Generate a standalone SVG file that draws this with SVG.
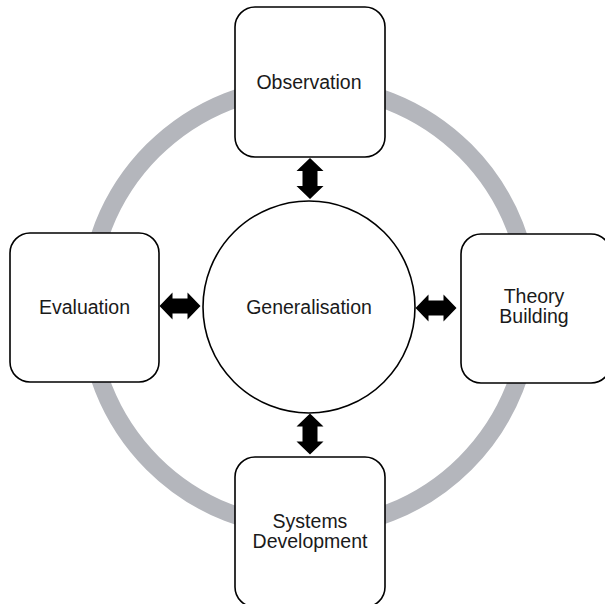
<svg xmlns="http://www.w3.org/2000/svg" xmlns:xlink="http://www.w3.org/1999/xlink" width="605" height="604" viewBox="0 0 605 604">
  <style>
    .box { fill: #ffffff; stroke: #000000; stroke-width: 1.6; }
    .hub { fill: #ffffff; stroke: #000000; stroke-width: 1.6; }
    .ring { fill: none; stroke: #b4b6bc; stroke-width: 18; }
    .label { font-family: "Liberation Sans", Arial, sans-serif; font-size: 19.5px; fill: #1a1a1a; text-anchor: middle; }
    .arrow { fill: #000000; }
  </style>
  <defs>
    <!-- double-headed arrow, vertical, centred on the origin, 41px long -->
    <path id="dbl" d="M0,-20.5 L13.5,-7.5 L7.5,-7.5 L7.5,7.5 L13.5,7.5 L0,20.5 L-13.5,7.5 L-7.5,7.5 L-7.5,-7.5 L-13.5,-7.5 Z"/>
  </defs>

  <!-- grey cycle ring behind the nodes -->
  <circle class="ring" cx="309" cy="307" r="221"/>

  <g id="connectors" class="arrow">
    <use xlink:href="#dbl" href="#dbl" transform="translate(310,178.5)"/>
    <use xlink:href="#dbl" href="#dbl" transform="translate(310,434)"/>
    <use xlink:href="#dbl" href="#dbl" transform="translate(180,306) rotate(90)"/>
    <use xlink:href="#dbl" href="#dbl" transform="translate(436,308) rotate(90)"/>
  </g>

  <g id="generalisation">
    <circle class="hub" cx="309" cy="307" r="106"/>
    <text class="label" x="309" y="314">Generalisation</text>
  </g>

  <g id="observation">
    <rect class="box" x="235" y="7" width="150" height="150" rx="20" ry="20"/>
    <text class="label" x="309" y="89">Observation</text>
  </g>

  <g id="evaluation">
    <rect class="box" x="10" y="233" width="149" height="149" rx="20" ry="20"/>
    <text class="label" x="84.5" y="314">Evaluation</text>
  </g>

  <g id="theory-building">
    <rect class="box" x="461" y="234" width="150" height="149" rx="20" ry="20"/>
    <text class="label" x="534" y="303">Theory</text>
    <text class="label" x="534" y="323">Building</text>
  </g>

  <g id="systems-development">
    <rect class="box" x="235" y="457" width="150" height="150" rx="20" ry="20"/>
    <text class="label" x="310" y="528">Systems</text>
    <text class="label" x="310" y="548">Development</text>
  </g>
</svg>
